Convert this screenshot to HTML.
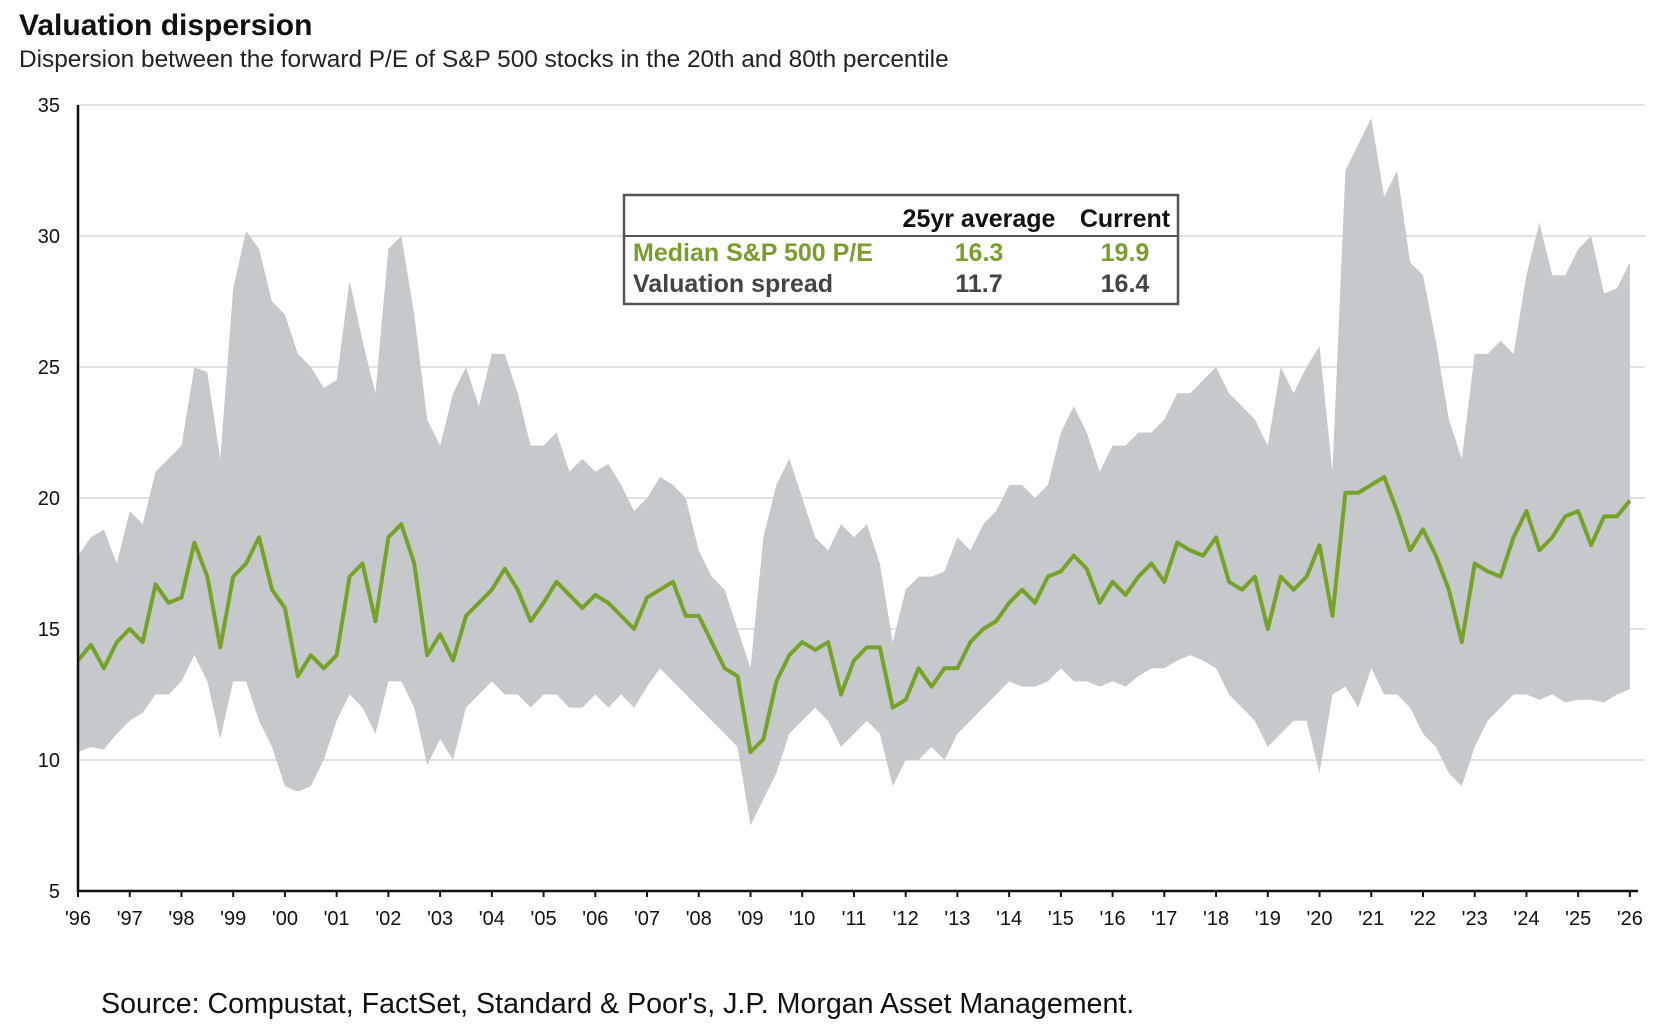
<!DOCTYPE html>
<html><head><meta charset="utf-8"><style>
body{margin:0;background:#fff;width:1662px;height:1029px;overflow:hidden;font-family:"Liberation Sans",sans-serif}
</style></head><body>
<svg width="1662" height="1029" xmlns="http://www.w3.org/2000/svg">
<text x="19" y="35" font-size="30" font-weight="bold" fill="#111">Valuation dispersion</text>
<text x="19" y="67" font-size="24.4" fill="#222">Dispersion between the forward P/E of S&amp;P 500 stocks in the 20th and 80th percentile</text>
<g id="grid"></g>
<path id="band" fill="#c6c9cc"/>
<path id="median" fill="none" stroke="#77a22a" stroke-width="4" stroke-linejoin="round"/>
<g id="axes"></g>
<g>
<rect x="624" y="195" width="554" height="109" fill="#fff" stroke="#555" stroke-width="2.5"/>
<line x1="624" y1="236" x2="1178" y2="236" stroke="#555" stroke-width="2"/>
<g font-size="25" font-weight="bold">
<text x="979" y="227" text-anchor="middle" fill="#111">25yr average</text>
<text x="1125" y="227" text-anchor="middle" fill="#111">Current</text>
<text x="633" y="261" fill="#7a9e2e">Median S&amp;P 500 P/E</text>
<text x="979" y="261" text-anchor="middle" fill="#7a9e2e">16.3</text>
<text x="1125" y="261" text-anchor="middle" fill="#7a9e2e">19.9</text>
<text x="633" y="292" fill="#444">Valuation spread</text>
<text x="979" y="292" text-anchor="middle" fill="#444">11.7</text>
<text x="1125" y="292" text-anchor="middle" fill="#444">16.4</text>
</g></g>
<text x="101" y="1013" font-size="28.6" fill="#111">Source: Compustat, FactSet, Standard &amp; Poor's, J.P. Morgan Asset Management.</text>
</svg>
<script>
const startYear = 1996;
const stepYears = 0.25;
const upper = [17.8,18.5,18.8,17.5, 19.5,19.0,21.0,21.5, 22.0,25.0,24.8,21.5, 28.0,30.2,29.5,27.5, 27.0,25.5,25.0,24.2, 24.5,28.3,26.0,24.0, 29.5,30.0,27.0,23.0, 22.0,24.0,25.0,23.5, 25.5,25.5,24.0,22.0, 22.0,22.5,21.0,21.5, 21.0,21.3,20.5,19.5, 20.0,20.8,20.5,20.0, 18.0,17.0,16.5,15.0, 13.5,18.5,20.5,21.5, 20.0,18.5,18.0,19.0, 18.5,19.0,17.5,14.5, 16.5,17.0,17.0,17.2, 18.5,18.0,19.0,19.5, 20.5,20.5,20.0,20.5, 22.5,23.5,22.5,21.0, 22.0,22.0,22.5,22.5, 23.0,24.0,24.0,24.5, 25.0,24.0,23.5,23.0, 22.0,25.0,24.0,25.0, 25.8,21.0,32.5,33.5, 34.5,31.5,32.5,29.0, 28.5,26.0,23.0,21.5, 25.5,25.5,26.0,25.5, 28.5,30.5,28.5,28.5, 29.5,30.0,27.8,28.0, 29.0];
const lower = [10.3,10.5,10.4,11.0, 11.5,11.8,12.5,12.5, 13.0,14.0,13.0,10.8, 13.0,13.0,11.5,10.5, 9.0,8.8,9.0,10.0, 11.5,12.5,12.0,11.0, 13.0,13.0,12.0,9.8, 10.8,10.0,12.0,12.5, 13.0,12.5,12.5,12.0, 12.5,12.5,12.0,12.0, 12.5,12.0,12.5,12.0, 12.8,13.5,13.0,12.5, 12.0,11.5,11.0,10.5, 7.5,8.5,9.5,11.0, 11.5,12.0,11.5,10.5, 11.0,11.5,11.0,9.0, 10.0,10.0,10.5,10.0, 11.0,11.5,12.0,12.5, 13.0,12.8,12.8,13.0, 13.5,13.0,13.0,12.8, 13.0,12.8,13.2,13.5, 13.5,13.8,14.0,13.8, 13.5,12.5,12.0,11.5, 10.5,11.0,11.5,11.5, 9.5,12.5,12.8,12.0, 13.5,12.5,12.5,12.0, 11.0,10.5,9.5,9.0, 10.5,11.5,12.0,12.5, 12.5,12.3,12.5,12.2, 12.3,12.3,12.2,12.5, 12.7];
const median = [13.8,14.4,13.5,14.5, 15.0,14.5,16.7,16.0, 16.2,18.3,17.0,14.3, 17.0,17.5,18.5,16.5, 15.8,13.2,14.0,13.5, 14.0,17.0,17.5,15.3, 18.5,19.0,17.5,14.0, 14.8,13.8,15.5,16.0, 16.5,17.3,16.5,15.3, 16.0,16.8,16.3,15.8, 16.3,16.0,15.5,15.0, 16.2,16.5,16.8,15.5, 15.5,14.5,13.5,13.2, 10.3,10.8,13.0,14.0, 14.5,14.2,14.5,12.5, 13.8,14.3,14.3,12.0, 12.3,13.5,12.8,13.5, 13.5,14.5,15.0,15.3, 16.0,16.5,16.0,17.0, 17.2,17.8,17.3,16.0, 16.8,16.3,17.0,17.5, 16.8,18.3,18.0,17.8, 18.5,16.8,16.5,17.0, 15.0,17.0,16.5,17.0, 18.2,15.5,20.2,20.2, 20.5,20.8,19.5,18.0, 18.8,17.8,16.5,14.5, 17.5,17.2,17.0,18.5, 19.5,18.0,18.5,19.3, 19.5,18.2,19.3,19.3, 19.9];
const yTicks = [5,10,15,20,25,30,35];
const xTickLabels = ["'96","'97","'98","'99","'00","'01","'02","'03","'04","'05","'06","'07","'08","'09","'10","'11","'12","'13","'14","'15","'16","'17","'18","'19","'20","'21","'22","'23","'24","'25","'26"];

const X0=78, PXY=51.73, Y0=891, PXV=26.2;
const xs = yr => X0 + (yr - startYear) * PXY;
const ys = v => Y0 - (v - 5) * PXV;
const NS="http://www.w3.org/2000/svg";
const grid=document.getElementById('grid'), axes=document.getElementById('axes');

yTicks.forEach(t=>{
  if(t>5){
    const l=document.createElementNS(NS,'line');
    l.setAttribute('x1',X0);l.setAttribute('x2',1645);l.setAttribute('y1',ys(t));l.setAttribute('y2',ys(t));
    l.setAttribute('stroke','#e2e2e2');l.setAttribute('stroke-width','2');
    
    
    grid.appendChild(l);
  }
  const tx=document.createElementNS(NS,'text');
  tx.setAttribute('x',60);tx.setAttribute('y',ys(t)+7);tx.setAttribute('text-anchor','end');
  tx.setAttribute('font-size','20');tx.setAttribute('fill','#111');
  tx.textContent=t;
  
  
  axes.appendChild(tx);
});

const pts=(arr)=>arr.map((v,i)=>[xs(startYear+i*stepYears),ys(v)]);
const up=pts(upper), lo=pts(lower).reverse();
document.getElementById('band').setAttribute('d','M'+up.map(p=>p.join(',')).join('L')+'L'+lo.map(p=>p.join(',')).join('L')+'Z');
document.getElementById('median').setAttribute('d','M'+pts(median).map(p=>p.join(',')).join('L'));

const ax=document.createElementNS(NS,'path');
ax.setAttribute('d',`M${X0},${ys(35)}V${Y0}H1638`);
ax.setAttribute('stroke','#111');ax.setAttribute('stroke-width','2.5');ax.setAttribute('fill','none');


axes.appendChild(ax);

xTickLabels.forEach((lab,i)=>{
  const x=xs(startYear+i);
  const tk=document.createElementNS(NS,'line');
  tk.setAttribute('x1',x);tk.setAttribute('x2',x);tk.setAttribute('y1',Y0);tk.setAttribute('y2',Y0+6);
  tk.setAttribute('stroke','#111');tk.setAttribute('stroke-width','2');
  
  
  axes.appendChild(tk);
  const tx=document.createElementNS(NS,'text');
  tx.setAttribute('x',x);tx.setAttribute('y',925);tx.setAttribute('text-anchor','middle');
  tx.setAttribute('font-size','20');tx.setAttribute('fill','#111');
  tx.textContent=lab;
  
  
  axes.appendChild(tx);
});
</script>
</body></html>
